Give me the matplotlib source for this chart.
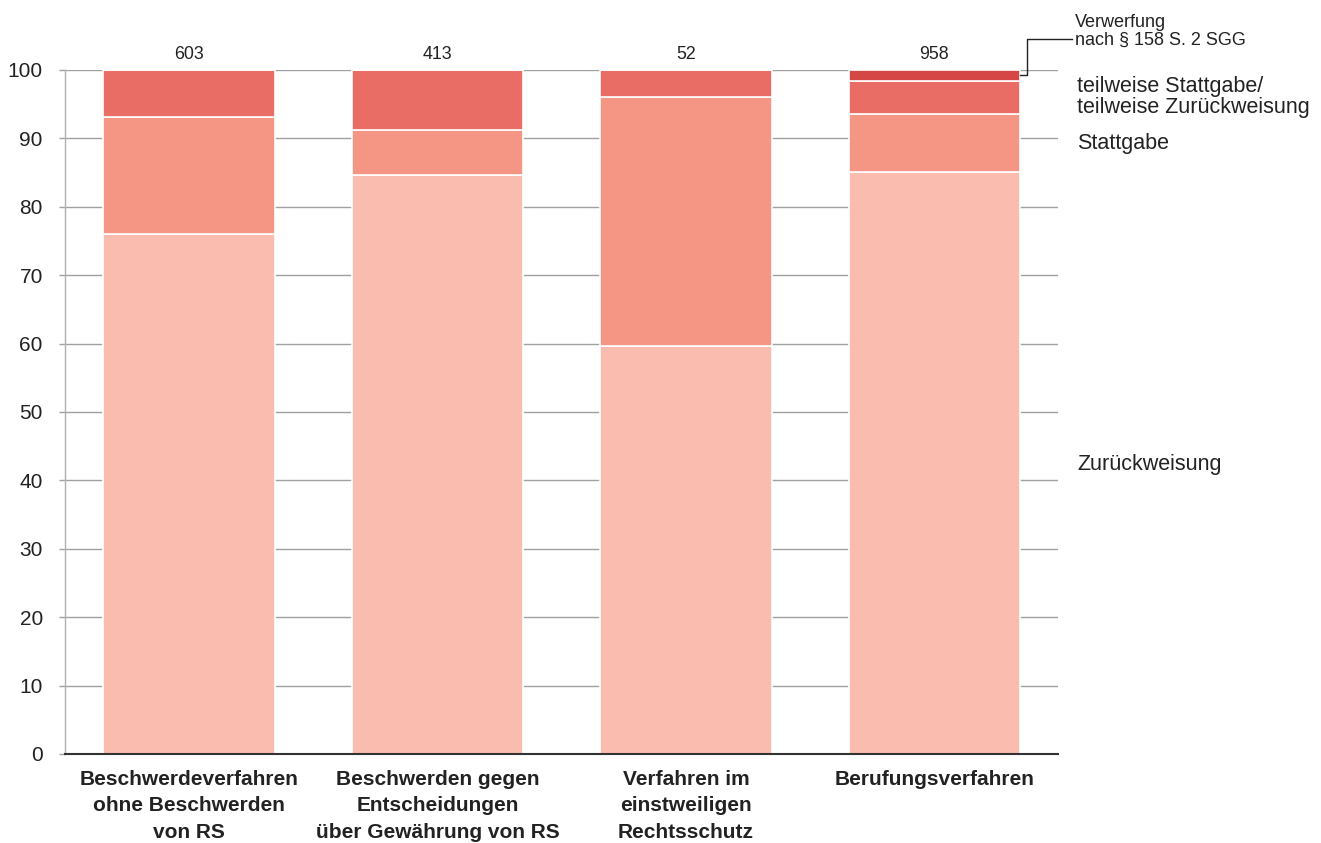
import numpy as np
import matplotlib.pyplot as plt

plt.rcParams['font.family'] = ['Liberation Sans', 'DejaVu Sans']

categories = ['Beschwerdeverfahren\nohne Beschwerden\nvon RS',
              'Beschwerden gegen\nEntscheidungen\nüber Gewährung von RS',
              'Verfahren im\neinstweiligen\nRechtsschutz',
              'Berufungsverfahren']
totals = [603, 413, 52, 958]

# shares in percent, bottom to top
zurueckweisung = [76.0, 84.6, 59.6, 85.1]
stattgabe = [17.1, 6.6, 36.5, 8.5]
teilweise = [6.9, 8.8, 3.9, 4.8]
verwerfung = [0.0, 0.0, 0.0, 1.6]

series = [zurueckweisung, stattgabe, teilweise, verwerfung]
colors = ['#f9bcae', '#f59685', '#e96d64', '#d44745']
txt = '#222222'

fig = plt.figure(figsize=(13.21, 8.43), dpi=100)
ax = fig.add_axes([0.0492, 0.1056, 0.752, 0.8114])

x = np.arange(len(categories))
bottom = np.zeros(len(categories))
for vals, c in zip(series, colors):
    v = np.array(vals)
    ax.bar(x, v, bottom=bottom, width=0.69, color=c, edgecolor='white',
           linewidth=1.2, zorder=3)
    bottom += v

ax.set_xlim(-0.5, 3.5)
ax.set_ylim(0, 100)
ax.set_yticks(range(0, 101, 10))
ax.yaxis.grid(True, color='#a0a0a0', linewidth=1.0, zorder=0)
ax.set_axisbelow(True)
for s in ['top', 'right']:
    ax.spines[s].set_visible(False)
ax.spines['left'].set_color('#b0b0b0')
ax.spines['left'].set_linewidth(1.0)
ax.spines['bottom'].set_color('#333333')
ax.spines['bottom'].set_linewidth(1.5)
ax.spines['bottom'].set_zorder(4)
ax.tick_params(axis='y', length=4, width=1.0, color='#a0a0a0', pad=12,
               labelsize=15, labelcolor=txt)
ax.tick_params(axis='x', length=0, pad=11.5)
ax.set_xticks(x)
ax.set_xticklabels(categories, fontsize=15, fontweight='bold', color=txt,
                   va='top', linespacing=1.5)

for xi, n in zip(x, totals):
    ax.text(xi, 102.3, str(n), ha='center', va='center', fontsize=12.8, color=txt)

# right-side labels
lx = 3.575
ax.text(lx, 42.3, 'Zurückweisung', fontsize=15.5, va='center', color=txt, clip_on=False)
ax.text(lx, 89.2, 'Stattgabe', fontsize=15.5, va='center', color=txt, clip_on=False)
ax.text(lx, 96.0, 'teilweise Stattgabe/\nteilweise Zurückweisung', fontsize=15.5,
        va='center', color=txt, linespacing=1.0, clip_on=False)
ax.text(3.568, 105.6, 'Verwerfung\nnach § 158 S. 2 SGG', fontsize=13,
        va='center', color=txt, linespacing=1.05, clip_on=False)
ax.plot([3.345, 3.375, 3.375, 3.556], [99.3, 99.3, 104.5, 104.5],
        color=txt, linewidth=1.0, clip_on=False, zorder=5)

fig.savefig('out.png', dpi=100)
